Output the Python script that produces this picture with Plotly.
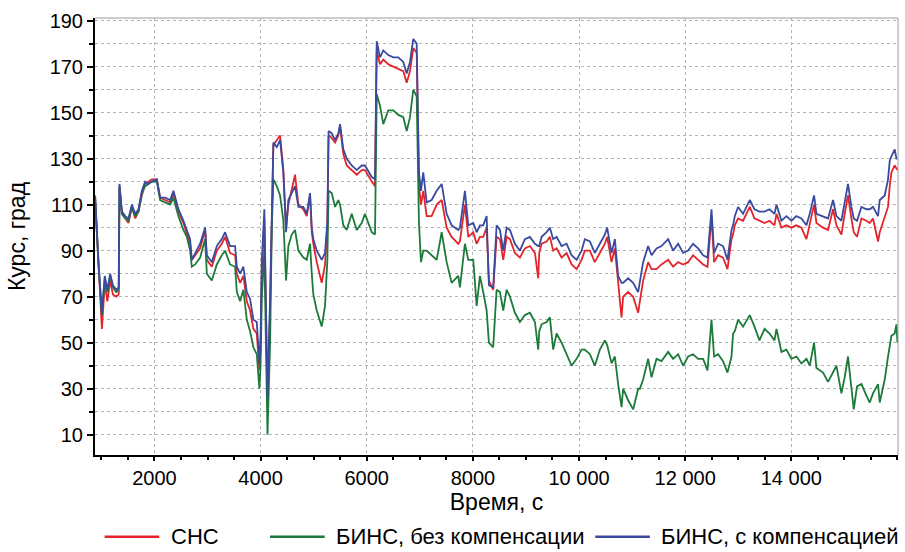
import plotly.graph_objects as go

# time, s
t = [883, 946, 1010, 1064, 1113, 1166, 1217, 1280, 1327, 1341, 1387, 1450, 1510, 1575, 1637, 1700,
     1763, 1825, 1887, 1951, 2045, 2107, 2201, 2296, 2358, 2452, 2546, 2610, 2672, 2704, 2766, 2861,
     2955, 2987, 3081, 3175, 3269, 3331, 3425, 3520, 3552, 3614, 3676, 3740, 3802, 3864, 3928, 3977,
     4000, 4022, 4071, 4116, 4130, 4179, 4211, 4241, 4305, 4367, 4429, 4480, 4523, 4587, 4649, 4712,
     4806, 4870, 4932, 4964, 4994, 5058, 5152, 5214, 5258, 5281, 5341, 5403, 5465, 5497, 5559, 5623,
     5717, 5811, 5905, 5967, 6094, 6156, 6188, 6250, 6312, 6406, 6500, 6595, 6689, 6753, 6815, 6877,
     6941, 6984, 7022, 7065, 7129, 7223, 7318, 7412, 7506, 7600, 7724, 7756, 7850, 7913, 8007, 8071,
     8133, 8195, 8259, 8302, 8383, 8447, 8510, 8572, 8636, 8698, 8792, 8886, 8980, 9074, 9169, 9231,
     9250, 9295, 9389, 9451, 9513, 9577, 9671, 9765, 9860, 9954, 10048, 10110, 10204, 10298, 10393, 10487,
     10530, 10613, 10675, 10737, 10801, 10831, 10925, 11020, 11114, 11146, 11208, 11302, 11366, 11460, 11554, 11679,
     11773, 11867, 11961, 12055, 12149, 12244, 12338, 12421, 12496, 12545, 12620, 12714, 12797, 12873, 12903, 12935,
     12997, 13091, 13217, 13306, 13400, 13495, 13589, 13683, 13720, 13814, 13908, 14002, 14096, 14190, 14285, 14347,
     14428, 14473, 14598, 14692, 14786, 14850, 14944, 15006, 15068, 15132, 15176, 15238, 15321, 15415, 15477, 15539,
     15634, 15666, 15760, 15822, 15854, 15886, 15948, 15980, 16000]

# СНС
sns = [112, 83, 56, 76, 68, 77, 71, 70, 71, 118, 106, 104, 102, 109, 104, 107,
       114, 119, 120, 121, 121, 113, 112, 111, 115, 107, 102, 97, 93, 86, 88, 91,
       99, 86, 83, 90, 93, 96, 89, 88, 80, 76, 79, 68, 64, 56, 54, 38,
       48, 80, 104, 30, 24, 65, 110, 136, 138, 140, 125, 100, 110, 116, 123, 110,
       108, 105, 114, 98, 93, 85, 76, 84, 100, 140, 139, 137, 140, 144, 132, 127,
       125, 123, 125, 125, 120, 118, 177, 171, 173, 171, 170, 169, 168, 163, 168, 178,
       176, 118, 110, 116, 105, 105, 110, 112, 100, 96, 93, 94, 110, 96, 98, 93,
       96, 96, 100, 77, 73, 96, 95, 86, 96, 95, 89, 87, 91, 92, 89, 78,
       89, 93, 94, 96, 90, 91, 87, 89, 84, 82, 86, 90, 90, 85, 89, 93,
       96, 85, 91, 75, 61, 70, 72, 70, 63, 68, 77, 85, 82, 82, 84, 86,
       83, 85, 84, 85, 88, 86, 84, 83, 105, 85, 88, 87, 82, 95, 97, 101,
       104, 103, 109, 104, 103, 102, 103, 101, 106, 100, 101, 100, 101, 100, 95, 102,
       110, 102, 100, 99, 108, 101, 97, 106, 114, 104, 98, 96, 104, 103, 102, 104,
       94, 98, 105, 109, 118, 124, 127, 126, 125]

# БИНС, без компенсации
bins_raw = [113, 84, 62, 78, 72, 79, 74, 72, 73, 118, 106, 104, 103, 109, 105, 107,
            115, 118, 119, 120, 120, 112, 111, 110, 113, 105, 99, 96, 90, 83, 84, 87,
            95, 80, 77, 84, 88, 90, 84, 83, 72, 68, 73, 60, 55, 48, 45, 30,
            40, 69, 90, 15, 10, 50, 100, 121, 118, 114, 103, 77, 92, 97, 99, 90,
            87, 86, 93, 80, 71, 64, 57, 66, 86, 116, 115, 109, 112, 110, 101, 99,
            106, 99, 102, 106, 98, 97, 158, 153, 145, 151, 151, 149, 148, 142, 148, 160,
            157, 102, 85, 90, 90, 88, 86, 98, 85, 76, 79, 74, 93, 86, 86, 66,
            79, 72, 64, 50, 48, 73, 72, 64, 73, 70, 63, 59, 62, 63, 59, 47,
            55, 58, 59, 61, 47, 54, 50, 45, 40, 43, 47, 47, 45, 40, 47, 51,
            49, 41, 44, 32, 22, 30, 25, 21, 30, 30, 34, 43, 35, 43, 42, 46,
            43, 45, 40, 44, 45, 43, 43, 38, 60, 44, 45, 42, 37, 44, 54, 55,
            60, 57, 62, 57, 51, 56, 54, 51, 56, 46, 47, 43, 44, 41, 43, 40,
            50, 39, 37, 33, 37, 40, 28, 35, 44, 31, 21, 31, 32, 27, 24, 28,
            32, 24, 34, 44, 48, 53, 54, 58, 50]

# БИНС, с компенсацией
bins_comp = [114, 85, 63, 79, 73, 80, 75, 73, 74, 119, 107, 105, 104, 110, 106, 108,
             116, 120, 119, 120, 121, 113, 113, 112, 116, 108, 103, 99, 95, 86, 89, 93,
             100, 88, 85, 92, 95, 98, 92, 92, 83, 80, 83, 72, 69, 60, 59, 41,
             53, 85, 108, 34, 26, 70, 113, 137, 135, 138, 124, 98, 112, 115, 118, 109,
             109, 106, 115, 100, 95, 90, 86, 89, 103, 142, 141, 138, 141, 145, 134, 130,
             127, 125, 127, 127, 122, 121, 181, 174, 177, 175, 174, 174, 172, 167, 172, 182,
             180, 124, 116, 124, 111, 112, 116, 119, 106, 101, 99, 100, 116, 101, 102, 98,
             101, 101, 105, 75, 74, 101, 99, 90, 100, 99, 93, 90, 95, 96, 93, 92,
             92, 96, 98, 100, 95, 96, 92, 93, 88, 86, 90, 95, 94, 89, 93, 97,
             100, 89, 95, 79, 76, 76, 78, 76, 72, 76, 85, 92, 88, 91, 92, 95,
             90, 93, 89, 90, 93, 91, 88, 87, 108, 89, 93, 92, 86, 99, 101, 105,
             109, 106, 112, 108, 107, 107, 108, 106, 110, 103, 105, 103, 105, 104, 101, 106,
             114, 106, 105, 104, 112, 105, 103, 111, 119, 109, 104, 103, 109, 108, 108, 109,
             105, 112, 114, 121, 129, 131, 134, 130, 130]

series_names = ["СНС", "БИНС, без компенсации", "БИНС, с компенсацией"]
series_colors = ["#e3242b", "#1c7a3a", "#3a4a9e"]

x_tickvals = [2000, 4000, 6000, 8000, 10000, 12000, 14000]
x_ticktext = ["2000", "4000", "6000", "8000", "10 000", "12 000", "14 000"]
y_tickvals = [10, 30, 50, 70, 90, 110, 130, 150, 170, 190]

FONT = "Liberation Sans"
GRID = "#b4b4b4"

fig = go.Figure()
for name, vals, col in zip(series_names, [sns, bins_raw, bins_comp], series_colors):
    fig.add_trace(go.Scatter(x=t, y=vals, mode="lines", name=name,
                             line=dict(color=col, width=1.8), showlegend=False))

fig.update_xaxes(
    range=[880, 16010], tickvals=x_tickvals, ticktext=x_ticktext,
    showgrid=True, gridcolor=GRID, gridwidth=1, griddash="dot",
    showline=True, linecolor="black", linewidth=2,
    ticks="outside", ticklen=4, tickwidth=1.5, tickcolor="black",
    minor=dict(dtick=500, tick0=0, ticks="outside", ticklen=3, tickcolor="black", showgrid=False),
    tickfont=dict(family=FONT, size=20, color="black"),
    title=dict(text="Время, с", font=dict(family=FONT, size=23, color="black"), standoff=2),
    zeroline=False,
)
fig.update_yaxes(
    range=[1.2, 191.1], tickvals=y_tickvals,
    showgrid=True, gridcolor=GRID, gridwidth=1, griddash="dot",
    showline=True, linecolor="black", linewidth=2,
    ticks="outside", ticklen=6, tickwidth=1.5, tickcolor="black",
    minor=dict(dtick=10, tick0=0, ticks="outside", ticklen=4, tickcolor="black",
               showgrid=True, gridcolor=GRID, gridwidth=1, griddash="dot"),
    tickfont=dict(family=FONT, size=20, color="black"),
    title=dict(text="Курс, град", font=dict(family=FONT, size=23, color="black"), standoff=18),
    zeroline=False,
)

# thin grey frame on top and right
fig.add_shape(type="line", xref="paper", yref="paper", x0=0, x1=1, y0=1, y1=1,
              line=dict(color="#9a9a9a", width=1))
fig.add_shape(type="line", xref="paper", yref="paper", x0=1, x1=1, y0=0, y1=1,
              line=dict(color="#9a9a9a", width=1))

# legend below the axis title
legend_line_x = [0.012, 0.218, 0.623]
legend_y = -0.187
for x0, name, col in zip(legend_line_x, series_names, series_colors):
    fig.add_shape(type="line", xref="paper", yref="paper", x0=x0, x1=x0 + 0.068,
                  y0=legend_y, y1=legend_y, line=dict(color=col, width=2.5))
    fig.add_annotation(xref="paper", yref="paper", x=x0 + 0.081, y=legend_y,
                       text=name, showarrow=False, xanchor="left", yanchor="middle",
                       borderpad=0,
                       font=dict(family=FONT, size=22, color="black"))

fig.update_layout(
    width=905, height=552,
    margin=dict(l=95, r=7, t=18, b=97),
    paper_bgcolor="white", plot_bgcolor="white",
    font=dict(family=FONT, size=20, color="black"),
    showlegend=False,
)

fig.write_html("out.html")
